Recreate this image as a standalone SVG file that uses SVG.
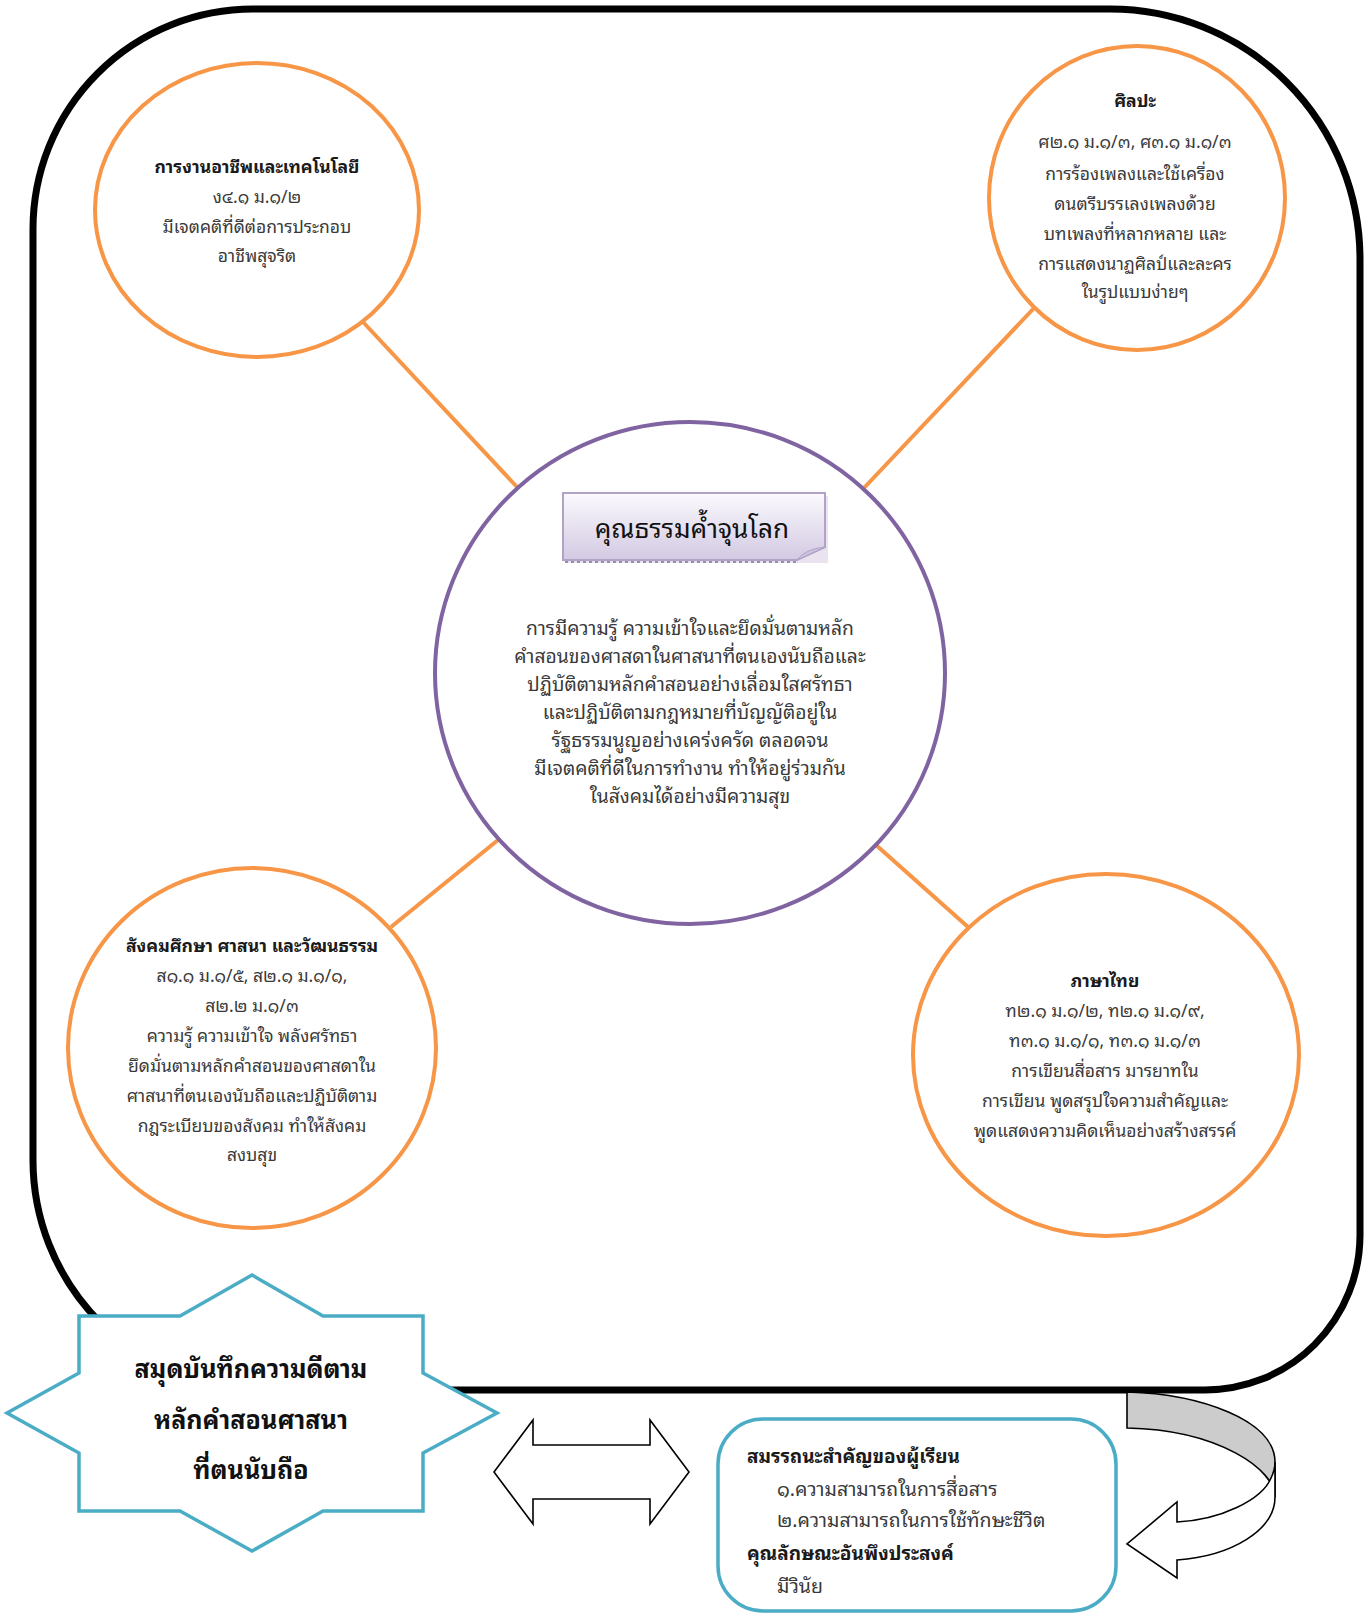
<svg xmlns="http://www.w3.org/2000/svg" width="1365" height="1615" viewBox="0 0 1365 1615">
<defs>
<linearGradient id="gTitle" x1="0" y1="0" x2="0" y2="1">
<stop offset="0" stop-color="#FBFAFD"/>
<stop offset="1" stop-color="#D3C9E3"/>
</linearGradient>
<style>
.t{font-family:"Noto Sans Thai Looped","Leelawadee UI","Tahoma","Loma","Garuda","Noto Sans Thai","Noto Sans",sans-serif;text-anchor:middle;fill:#3a3a3a;font-size:17.5px}
.b{font-weight:bold;fill:#1a1a1a;font-size:17.6px}
.c{font-size:19.3px}
.l{text-anchor:start}
.orange{fill:#fff;stroke:#F79646;stroke-width:4}
.conn{stroke:#F79646;stroke-width:4;fill:none}
.arr{fill:#fff;stroke:#000;stroke-width:1.6;stroke-linejoin:miter}
</style>
</defs>
<rect width="1365" height="1615" fill="#fff"/>
<path id="frame" d="M253,9 H1110 A250,250 0 0 1 1360,259 V1235 A155,155 0 0 1 1205,1390 H263 A230,230 0 0 1 33,1160 V229 A220,220 0 0 1 253,9 Z" fill="none" stroke="#000" stroke-width="7"/>
<g id="connectors">
<line class="conn" x1="363" y1="322" x2="517" y2="487"/>
<line class="conn" x1="1035" y1="307" x2="863" y2="489"/>
<line class="conn" x1="498" y1="840" x2="391" y2="927"/>
<line class="conn" x1="876" y1="845" x2="968" y2="927"/>
</g>
<g id="node-career">
<ellipse class="orange" cx="257" cy="210" rx="162" ry="147"/>
<text class="t b" x="257" y="173">การงานอาชีพและเทคโนโลยี</text>
<text class="t" x="257" y="203">ง๔.๑ ม.๑/๒</text>
<text class="t" x="257" y="233">มีเจตคติที่ดีต่อการประกอบ</text>
<text class="t" x="257" y="262">อาชีพสุจริต</text>
</g>
<g id="node-art">
<ellipse class="orange" cx="1137" cy="198" rx="148" ry="152"/>
<text class="t b" x="1135" y="107">ศิลปะ</text>
<text class="t" x="1135" y="148">ศ๒.๑ ม.๑/๓, ศ๓.๑ ม.๑/๓</text>
<text class="t" x="1135" y="180">การร้องเพลงและใช้เครื่อง</text>
<text class="t" x="1135" y="210">ดนตรีบรรเลงเพลงด้วย</text>
<text class="t" x="1135" y="240">บทเพลงที่หลากหลาย และ</text>
<text class="t" x="1135" y="270">การแสดงนาฏศิลป์และละคร</text>
<text class="t" x="1135" y="298">ในรูปแบบง่ายๆ</text>
</g>
<g id="node-center">
<ellipse cx="690" cy="673" rx="255" ry="251" fill="#fff" stroke="#8064A2" stroke-width="4"/>
<g id="title-box">
<rect x="566" y="496" width="262" height="67" fill="#e2dcea" opacity="0.8"/>
<path d="M563,493 H825 V547 L797,560 H563 Z" fill="url(#gTitle)" stroke="#B3A2C7" stroke-width="2"/>
<path d="M797,560 Q805,549 825,547 Q812,553 797,560 Z" fill="#CFC4E0" stroke="#B3A2C7" stroke-width="1"/>
<line x1="565" y1="562" x2="797" y2="562" stroke="#9a8db0" stroke-width="2" stroke-dasharray="3,3"/>
<text class="t" x="692" y="538" style="font-size:26.2px;fill:#111">คุณธรรมค้ำจุนโลก</text>
</g>
<text class="t c" x="690" y="635">การมีความรู้ ความเข้าใจและยึดมั่นตามหลัก</text>
<text class="t c" x="690" y="663">คำสอนของศาสดาในศาสนาที่ตนเองนับถือและ</text>
<text class="t c" x="690" y="691">ปฏิบัติตามหลักคำสอนอย่างเลื่อมใสศรัทธา</text>
<text class="t c" x="690" y="719">และปฏิบัติตามกฎหมายที่บัญญัติอยู่ใน</text>
<text class="t c" x="690" y="747">รัฐธรรมนูญอย่างเคร่งครัด ตลอดจน</text>
<text class="t c" x="690" y="775">มีเจตคติที่ดีในการทำงาน ทำให้อยู่ร่วมกัน</text>
<text class="t c" x="690" y="803">ในสังคมได้อย่างมีความสุข</text>
</g>
<g id="node-social">
<ellipse class="orange" cx="252" cy="1048" rx="184" ry="180"/>
<text class="t b" x="252" y="952">สังคมศึกษา ศาสนา และวัฒนธรรม</text>
<text class="t" x="252" y="982">ส๑.๑ ม.๑/๕, ส๒.๑ ม.๑/๑,</text>
<text class="t" x="252" y="1012">ส๒.๒ ม.๑/๓</text>
<text class="t" x="252" y="1042">ความรู้ ความเข้าใจ พลังศรัทธา</text>
<text class="t" x="252" y="1072">ยึดมั่นตามหลักคำสอนของศาสดาใน</text>
<text class="t" x="252" y="1102">ศาสนาที่ตนเองนับถือและปฏิบัติตาม</text>
<text class="t" x="252" y="1132">กฎระเบียบของสังคม ทำให้สังคม</text>
<text class="t" x="252" y="1161">สงบสุข</text>
</g>
<g id="node-thai">
<ellipse class="orange" cx="1106" cy="1055" rx="193" ry="181"/>
<text class="t b" x="1105" y="987">ภาษาไทย</text>
<text class="t" x="1105" y="1017">ท๒.๑ ม.๑/๒, ท๒.๑ ม.๑/๙,</text>
<text class="t" x="1105" y="1047">ท๓.๑ ม.๑/๑, ท๓.๑ ม.๑/๓</text>
<text class="t" x="1105" y="1077">การเขียนสื่อสาร มารยาทใน</text>
<text class="t" x="1105" y="1107">การเขียน พูดสรุปใจความสำคัญและ</text>
<text class="t" x="1105" y="1137">พูดแสดงความคิดเห็นอย่างสร้างสรรค์</text>
</g>
<g id="node-notebook">
<polygon points="252,1275 180,1316 79,1316 79,1373 7,1413 79,1453 79,1511 180,1511 252,1551 323,1511 423,1511 423,1453 497,1413 423,1373 423,1316 323,1316" fill="#fff" stroke="#4BACC6" stroke-width="3.5"/>
<text class="t b" x="251" y="1378" style="font-size:25.1px;fill:#111">สมุดบันทึกความดีตาม</text>
<text class="t b" x="251" y="1429" style="font-size:25.1px;fill:#111">หลักคำสอนศาสนา</text>
<text class="t b" x="251" y="1479" style="font-size:25.1px;fill:#111">ที่ตนนับถือ</text>
</g>
<g id="double-arrow">
<polygon class="arr" points="494,1472 533,1420 533,1445 650,1445 650,1420 689,1472 650,1524 650,1499 533,1499 533,1524"/>
</g>
<g id="node-competency">
<rect x="718" y="1419" width="398" height="192" rx="45" ry="45" fill="#fff" stroke="#4BACC6" stroke-width="3.5"/>
<text class="t b l" x="747" y="1463" style="font-size:19px">สมรรถนะสำคัญของผู้เรียน</text>
<text class="t l" x="777" y="1496" style="font-size:19.5px">๑.ความสามารถในการสื่อสาร</text>
<text class="t l" x="777" y="1527" style="font-size:19.5px">๒.ความสามารถในการใช้ทักษะชีวิต</text>
<text class="t b l" x="747" y="1560" style="font-size:19px">คุณลักษณะอันพึงประสงค์</text>
<text class="t l" x="777" y="1593" style="font-size:19.5px">มีวินัย</text>
</g>
<g id="curved-arrow">
<path d="M1127,1392 C1200,1394 1275,1420 1275,1462 L1275,1497 C1275,1470 1220,1430 1127,1428 Z" fill="#CCCCCC" stroke="#000" stroke-width="1.6"/>
<path class="arr" d="M1275,1462 L1275,1497 C1275,1530 1232,1556 1177,1560 L1177,1578 L1127,1544 L1177,1502 L1177,1522 C1220,1520 1262,1500 1271,1478 C1274,1472 1275,1467 1275,1462 Z"/>
</g>
</svg>
